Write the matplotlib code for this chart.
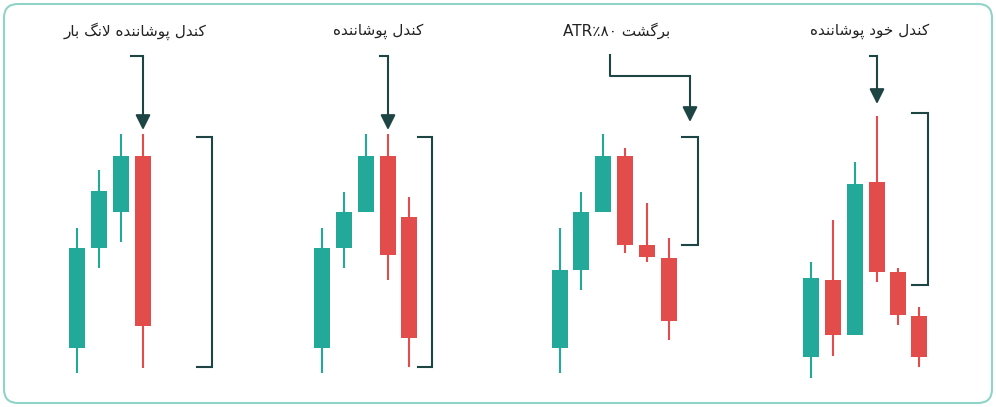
import matplotlib
matplotlib.use("Agg")
import matplotlib.pyplot as plt
from matplotlib.patches import FancyBboxPatch, Rectangle

# ---- simple Persian shaping (presentation forms) ----
FORMS = {
    'ا': ('\uFE8D', '\uFE8E', None, None),
    'ب': ('\uFE8F', '\uFE90', '\uFE91', '\uFE92'),
    'پ': ('\uFB56', '\uFB57', '\uFB58', '\uFB59'),
    'ت': ('\uFE95', '\uFE96', '\uFE97', '\uFE98'),
    'خ': ('\uFEA5', '\uFEA6', '\uFEA7', '\uFEA8'),
    'د': ('\uFEA9', '\uFEAA', None, None),
    'ر': ('\uFEAD', '\uFEAE', None, None),
    'ش': ('\uFEB5', '\uFEB6', '\uFEB7', '\uFEB8'),
    'ک': ('\uFB8E', '\uFB8F', '\uFB90', '\uFB91'),
    'گ': ('\uFB92', '\uFB93', '\uFB94', '\uFB95'),
    'ل': ('\uFEDD', '\uFEDE', '\uFEDF', '\uFEE0'),
    'ن': ('\uFEE5', '\uFEE6', '\uFEE7', '\uFEE8'),
    'و': ('\uFEED', '\uFEEE', None, None),
    'ه': ('\uFEE9', '\uFEEA', '\uFEEB', '\uFEEC'),
}

def shape(s):
    # handle lam-alef ligature
    out = []
    chars = list(s)
    i = 0
    while i < len(chars):
        c = chars[i]
        prev = chars[i - 1] if i > 0 else None
        join_prev = prev in FORMS and FORMS[prev][2] is not None and c in FORMS
        if c == 'ل' and i + 1 < len(chars) and chars[i + 1] == 'ا':
            out.append('\uFEFC' if join_prev else '\uFEFB')
            i += 2
            continue
        if c not in FORMS:
            out.append(c)
            i += 1
            continue
        nxt = chars[i + 1] if i + 1 < len(chars) else None
        join_next = FORMS[c][2] is not None and nxt in FORMS
        iso, fin, ini, med = FORMS[c]
        if join_prev and join_next:
            out.append(med)
        elif join_prev:
            out.append(fin)
        elif join_next:
            out.append(ini)
        else:
            out.append(iso)
        i += 1
    return ''.join(reversed(out))

# ---- data (pixel-like price units, y grows downward) ----
p1_x = [77, 99, 121, 143]
p1_open = [348, 248, 212, 156]
p1_close = [248, 191, 156, 326]
p1_high = [228, 170, 134, 134]
p1_low = [373, 268, 242, 368]

p2_x = [322, 344, 366, 388, 409]
p2_open = [348, 248, 212, 156, 217]
p2_close = [248, 212, 156, 255, 338]
p2_high = [228, 192, 134, 134, 197]
p2_low = [373, 268, 212, 280, 367]

p3_x = [560, 581, 603, 625, 647, 669]
p3_open = [348, 270, 212, 156, 245, 258]
p3_close = [270, 212, 156, 245, 257, 321]
p3_high = [228, 192, 134, 148, 203, 238]
p3_low = [373, 290, 212, 253, 262, 340]

p4_x = [811, 833, 855, 877, 898, 919]
p4_open = [357, 280, 335, 182, 272, 316]
p4_close = [278, 335, 184, 272, 315, 357]
p4_high = [262, 220, 162, 116, 268, 307]
p4_low = [378, 356, 335, 282, 325, 367]

titles = ['کندل پوشاننده لانگ بار', 'کندل پوشاننده', 'برگشت', 'کندل خود پوشاننده']

GREEN = '#22a99a'
RED = '#e24c4a'
DARK = '#1d4544'

fig = plt.figure(figsize=(9.96, 4.07), dpi=100)
ax = fig.add_axes([0, 0, 1, 1])
ax.set_xlim(0, 996)
ax.set_ylim(407, 0)
ax.axis('off')

ax.add_patch(FancyBboxPatch((4, 4), 988, 399, boxstyle='round,pad=0,rounding_size=14',
                            fc='white', ec='#8fd4c8', lw=1.5))

def candles(xs, o, c, h, l):
    for x, oo, cc, hh, ll in zip(xs, o, c, h, l):
        col = GREEN if cc < oo else RED
        ax.plot([x, x], [hh, ll], color=col, lw=1.5, solid_capstyle='butt', zorder=2)
        ax.add_patch(Rectangle((x - 8, min(oo, cc)), 16, abs(oo - cc), fc=col, ec='none', zorder=3))

candles(p1_x, p1_open, p1_close, p1_high, p1_low)
candles(p2_x, p2_open, p2_close, p2_high, p2_low)
candles(p3_x, p3_open, p3_close, p3_high, p3_low)
candles(p4_x, p4_open, p4_close, p4_high, p4_low)

def bracket(x0, x1, y0, y1):
    ax.plot([x0, x1, x1, x0], [y0, y0, y1, y1], color=DARK, lw=1.5, solid_joinstyle='miter')

bracket(197, 212, 137, 367)
bracket(418, 432, 137, 367)
bracket(682, 698, 137, 245)
bracket(912, 928, 113, 285)

def arrow(pts):
    xs = [p[0] for p in pts]
    ys = [p[1] for p in pts]
    ax.plot(xs[:-1], ys[:-1], color=DARK, lw=1.5)
    ax.annotate('', xy=pts[-1], xytext=pts[-2],
                arrowprops=dict(arrowstyle='-|>,head_width=0.45,head_length=0.9',
                                color=DARK, lw=1.5, shrinkA=0, shrinkB=0))

arrow([(131, 56), (143, 56), (143, 130)])
arrow([(380, 56), (388, 56), (388, 130)])
arrow([(610, 55), (610, 76), (690, 76), (690, 122)])
arrow([(870, 56), (877, 56), (877, 104)])

fs = 11
ax.text(135, 31, shape(titles[0]), ha='center', va='center', fontsize=fs, color='#222222', family=['DejaVu Sans'])
ax.text(378, 31, shape(titles[1]), ha='center', va='center', fontsize=fs, color='#222222', family=['DejaVu Sans'])
ax.text(617, 31, 'ATR\u066A\u06F8\u06F0 ' + shape(titles[2]), ha='center', va='center', fontsize=fs, color='#222222', family=['DejaVu Sans'])
ax.text(870, 31, shape(titles[3]), ha='center', va='center', fontsize=fs, color='#222222', family=['DejaVu Sans'])

fig.savefig('out.png', dpi=100)
